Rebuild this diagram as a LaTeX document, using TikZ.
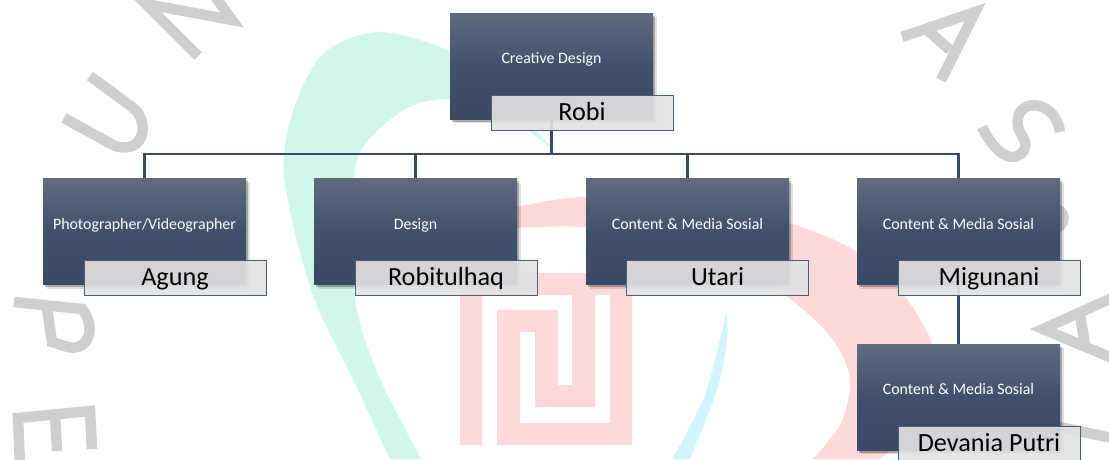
\documentclass[tikz,border=0pt]{standalone}
\usepackage{fontspec}
\setmainfont{Carlito}
\usetikzlibrary{shadows}

\definecolor{boxtop}{HTML}{606B7E}
\definecolor{boxmid}{HTML}{41516B}
\definecolor{boxbot}{HTML}{3A4964}
\definecolor{linecol}{HTML}{3A4964}
\definecolor{nameline}{HTML}{4E5E79}
\definecolor{namefill}{HTML}{E2E2E4}
\definecolor{markgray}{HTML}{CFCFCF}
\definecolor{markgreen}{HTML}{D0F7EA}
\definecolor{markred}{HTML}{FFD9DA}
\definecolor{markblue}{HTML}{D2F4FE}

\tikzset{
	rolebox/.style={rectangle, inner sep=0pt, minimum width=203pt, minimum height=106pt,
		top color=boxtop, bottom color=boxbot, middle color=boxmid,
		drop shadow={shadow xshift=3.5pt, shadow yshift=-4pt, opacity=.12, fill=black},
		drop shadow={shadow xshift=2pt, shadow yshift=-2.5pt, opacity=.25, fill=black},
		text=white, font=\fontsize{15.9}{18}\selectfont, text height=8pt, text depth=13pt},
	namebox/.style={rectangle, inner sep=0pt, minimum width=182pt, minimum height=35pt,
		draw=nameline, line width=1pt, fill=namefill, fill opacity=.91, text opacity=1,
		text=black, font=\fontsize{26.2}{30}\selectfont, text height=21pt, text depth=6pt},
	link/.style={draw=linecol, line width=2.6pt},
	letter/.style={draw=markgray, line width=10.5pt, line join=miter}
}

\begin{document}
\begin{tikzpicture}[x=1pt, y=-1pt]
	\useasboundingbox (0, 0) rectangle (1109, 459);

	% green swoosh
	\fill[markgreen] plot[smooth] coordinates {(556, 152) (505, 100) (450, 52) (380, 32) (325, 52) (295, 105) (284, 175) (311, 290) (352, 377) (390, 459)}
		-- (421, 459) -- plot[smooth] coordinates {(421, 459) (376, 370) (354, 293) (354, 177) (368, 140) (409, 107) (450, 99) (500, 108) (531, 132) (556, 152)} -- cycle;

	% blue swoosh
	\fill[markblue] plot[smooth] coordinates {(727, 310) (705, 395) (672, 459)}
		-- (690, 459) -- plot[smooth] coordinates {(690, 459) (717, 390) (727, 340) (727, 310)} -- cycle;

	% red swoosh
	\fill[markred] plot[smooth] coordinates {(517, 207) (584, 197) (700, 205) (789, 223) (854, 250) (900, 290) (932, 343) (940, 400) (880, 459)}
		-- (813, 459) -- plot[smooth] coordinates {(813, 459) (841, 423) (850, 380) (833, 340) (788, 297) (700, 240) (584, 227) (517, 228)} -- cycle;

	% red meander
	\fill[markred, even odd rule] (460, 273) -- (632, 273) -- (632, 445) -- (497, 445) -- (497, 310) -- (558, 310)
		-- (558, 385) -- (572, 385) -- (572, 295) -- (482, 295) -- (482, 445) -- (460, 445) -- cycle
		(520, 332) -- (535, 332) -- (535, 407) -- (595, 407) -- (595, 295) -- (610, 295) -- (610, 423) -- (520, 423) -- cycle;

	% letter N
	\draw[letter] (198, 56) -- (146, 4) -- (232, 20) -- (212, -8);

	% letter U
	\draw[letter] (90, 76) -- (132, 107) .. controls (150, 120) and (146, 155) .. (115, 146) -- (64, 118);

	% letter P
	\draw[letter] (14, 302) -- (82, 309) .. controls (96, 325) and (90, 352) .. (68, 347) -- (52, 342) -- (47, 308);

	% letter E
	\draw[letter] (20, 465) -- (18, 418) -- (90, 411) -- (92, 449);
	\draw[letter] (55, 414) -- (57, 451);

	% letter A top
	\draw[letter] (902, 37) -- (975, 12) -- (941, 80);
	\draw[letter] (925, 28) -- (950, 50);

	% letter S
	\draw[letter] (1060, 132) .. controls (1056, 102) and (1022, 97) .. (1018, 118) .. controls (1015, 135) and (1030, 138) .. (1024, 150) .. controls (1015, 165) and (995, 155) .. (982, 127);

	% letter behind the box
	\draw[letter] (1050, 208) .. controls (1068, 208) and (1068, 228) .. (1050, 230);

	% letter A bottom
	\draw[letter] (1112, 298) -- (1043, 329) -- (1112, 358);
	\draw[letter] (1080, 315) -- (1085, 345);

	% last letter
	\draw[letter] (1050, 425) -- (1112, 438);

	% junction under the top box
	\coordinate (bus) at (551.5, 154);

	% role boxes
	\node[rolebox] (creative) at (551.5, 66) {Creative Design};
	\node[rolebox] (photo) at (144.5, 231.5) {Photographer/Videographer};
	\node[rolebox] (design) at (415.5, 231.5) {Design};
	\node[rolebox] (content) at (687.5, 231.5) {Content \& Media Sosial};
	\node[rolebox] (social) at (958.5, 231.5) {Content \& Media Sosial};
	\node[rolebox] (assistant) at (958.5, 397) {Content \& Media Sosial};

	% links from the top box
	\draw[link] (creative.south) -- (bus);
	\draw[link] (bus) -| (photo.north);
	\draw[link] (bus) -| (design.north);
	\draw[link] (bus) -| (content.north);
	\draw[link] (bus) -| (social.north);

	% link to the lower box
	\draw[link] (social.south) -- (assistant.north);

	% name boxes
	\node[namebox] (robi) at (582, 112.5) {Robi};
	\node[namebox] (agung) at (175, 277.5) {Agung};
	\node[namebox] (robitulhaq) at (446, 277.5) {Robitulhaq};
	\node[namebox] (utari) at (717.5, 277.5) {Utari};
	\node[namebox] (migunani) at (989, 277.5) {Migunani};
	\node[namebox] (devania) at (989, 443.5) {Devania Putri};
\end{tikzpicture}
\end{document}
